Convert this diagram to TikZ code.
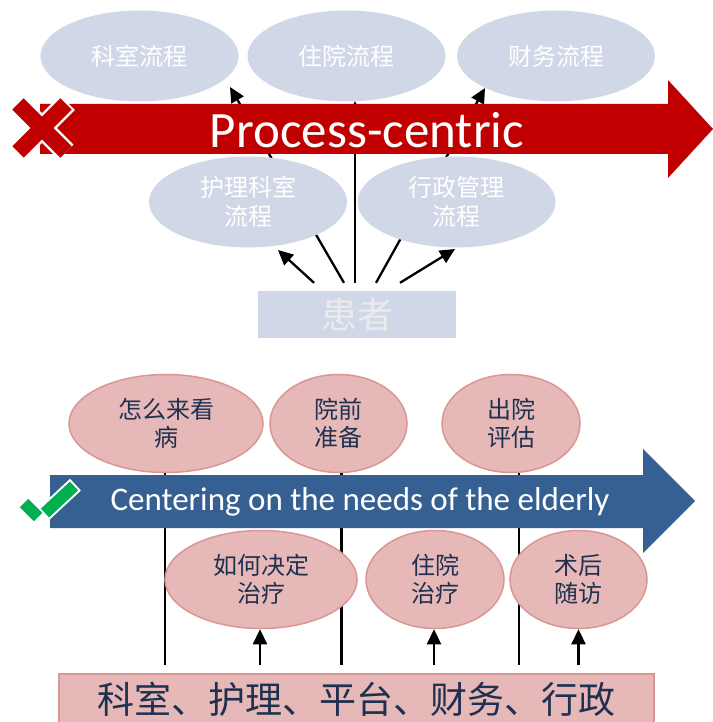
\documentclass[tikz,border=0pt]{standalone}
\usepackage{fontspec}
\newfontfamily\cjk{Noto Sans CJK SC}
\newfontfamily\carl{Carlito}
\usetikzlibrary{shapes.geometric,arrows.meta,calc}
\definecolor{bluefill}{RGB}{208,216,232}
\definecolor{redband}{RGB}{192,0,0}
\definecolor{blueband}{RGB}{55,96,146}
\definecolor{pinkfill}{RGB}{230,185,184}
\definecolor{pinkline}{RGB}{217,150,148}
\definecolor{navytext}{RGB}{31,48,80}
\definecolor{checkgreen}{RGB}{0,176,80}
\pgfdeclarelayer{back}
\pgfdeclarelayer{bg}
\pgfsetlayers{back,bg,main}
\tikzset{
 bell/.style={ellipse, fill=bluefill, inner sep=0pt, minimum width=198pt, minimum height=91pt, text=white, align=center, font=\cjk\fontsize{24}{29}\selectfont},
 pell/.style={ellipse, fill=pinkfill, draw=pinkline, line width=1.5pt, inner sep=0pt, minimum height=98pt, text=navytext, align=center, font=\cjk\fontsize{24}{28}\selectfont},
 conn/.style={line width=2.3pt, black},
 arr/.style={conn, -{Triangle[length=15pt,width=14pt]}},
 bandtext/.style={text=white, inner sep=0pt},
}
\begin{document}
\begin{tikzpicture}[x=1pt,y=-1pt]
\useasboundingbox (0,0) rectangle (712,722);
\begin{pgfonlayer}{back}
\fill[white] (0,0) rectangle (712,722);
\end{pgfonlayer}

% ---------- top part ----------
\node[bell] (ks) at (139.5,56) {科室流程};
\node[bell] (zy) at (346.5,56) {住院流程};
\node[bell] (cw) at (556,56) {财务流程};

\fill[redband] (40,104) -- (668,104) -- (668,80) -- (713,129) -- (668,178) -- (668,154) -- (40,154) -- cycle;
\node[bandtext, font=\carl\fontsize{51}{51}\selectfont] (pc) at (367,130) {Process-centric};

% red cross
\draw[white, line width=21pt, shorten <=-2pt, shorten >=-2pt] (18,104) -- (66,152) (66,104) -- (18,152);
\draw[redband, line width=16pt] (18,104) -- (66,152) (66,104) -- (18,152);

\node[bell] (hl) at (248,202) {护理科室\\流程};
\node[bell] (xz) at (456.5,202) {行政管理\\流程};
\node[fill=bluefill, minimum width=198pt, minimum height=47pt, inner sep=0pt, text=white!92!black, font=\cjk\fontsize{36}{36}\selectfont] (p) at (357,314.5) {患者};

\begin{pgfonlayer}{bg}
\draw[arr] ([shift={(-43,-8)}]p.north) -- ([shift={(30,48)}]hl.center);
\draw[arr] ([shift={(-13,-8)}]p.north) -- ([shift={(90.5,31)}]ks.center);
\draw[arr] ([shift={(-2,-8)}]p.north) -- ([shift={(8.5,45)}]zy.center);
\draw[arr] ([shift={(19,-8)}]p.north) -- ([shift={(-71,32)}]cw.center);
\draw[arr] ([shift={(43,-8)}]p.north) -- ([shift={(-1.5,47)}]xz.center);
\end{pgfonlayer}

% ---------- bottom part ----------
\node[pell, minimum width=194pt] (q1) at (166,423.5) {怎么来看\\病};
\node[pell, minimum width=137pt] (q2) at (338.5,423.5) {院前\\准备};
\node[pell, minimum width=138pt] (q3) at (511,423.5) {出院\\评估};

\fill[blueband] (50,475) -- (643,475) -- (643,449) -- (695,501) -- (643,553) -- (643,528) -- (50,528) -- cycle;
\node[bandtext, font=\carl\fontsize{33}{33}\selectfont] (ce) at (360,502) {Centering on the needs of the elderly};

% green check
\draw[white, line width=16pt, shorten <=-2pt, shorten >=-2pt] (24,503) -- (38,517) (45,513) -- (74,486);
\draw[checkgreen, line width=12pt] (24,503) -- (38,517) (45,513) -- (74,486);

\node[pell, minimum width=192pt] (r1) at (261,579.5) {如何决定\\治疗};
\node[pell, minimum width=138pt] (r2) at (435,579.5) {住院\\治疗};
\node[pell, minimum width=137pt] (r3) at (578.5,579.5) {术后\\随访};

\node[fill=pinkfill, draw=pinkline, line width=1.5pt, minimum width=595pt, minimum height=52pt, inner sep=0pt, anchor=north, text=navytext, font=\cjk\fontsize{37}{37}\selectfont] (b) at (356.5,673) {科室、护理、平台、财务、行政};

\begin{pgfonlayer}{bg}
\draw[conn] ($(q1.south)+(-1,0)$) -- ($(q1.south |- b.north)+(-1,-8)$);
\draw[conn] ($(q2.south)+(3,0)$) -- ($(q2.south |- b.north)+(3,-8)$);
\draw[conn] ($(q3.south)+(8,0)$) -- ($(q3.south |- b.north)+(8,-8)$);
\end{pgfonlayer}
\draw[arr] ($(r1.south |- b.north)+(-1,-8)$) -- ($(r1.south)+(-1,0)$);
\draw[arr] ($(r2.south |- b.north)+(-1,-8)$) -- ($(r2.south)+(-1,0)$);
\draw[arr] ($(r3.south |- b.north)+(0,-8)$) -- (r3.south);
\end{tikzpicture}
\end{document}
